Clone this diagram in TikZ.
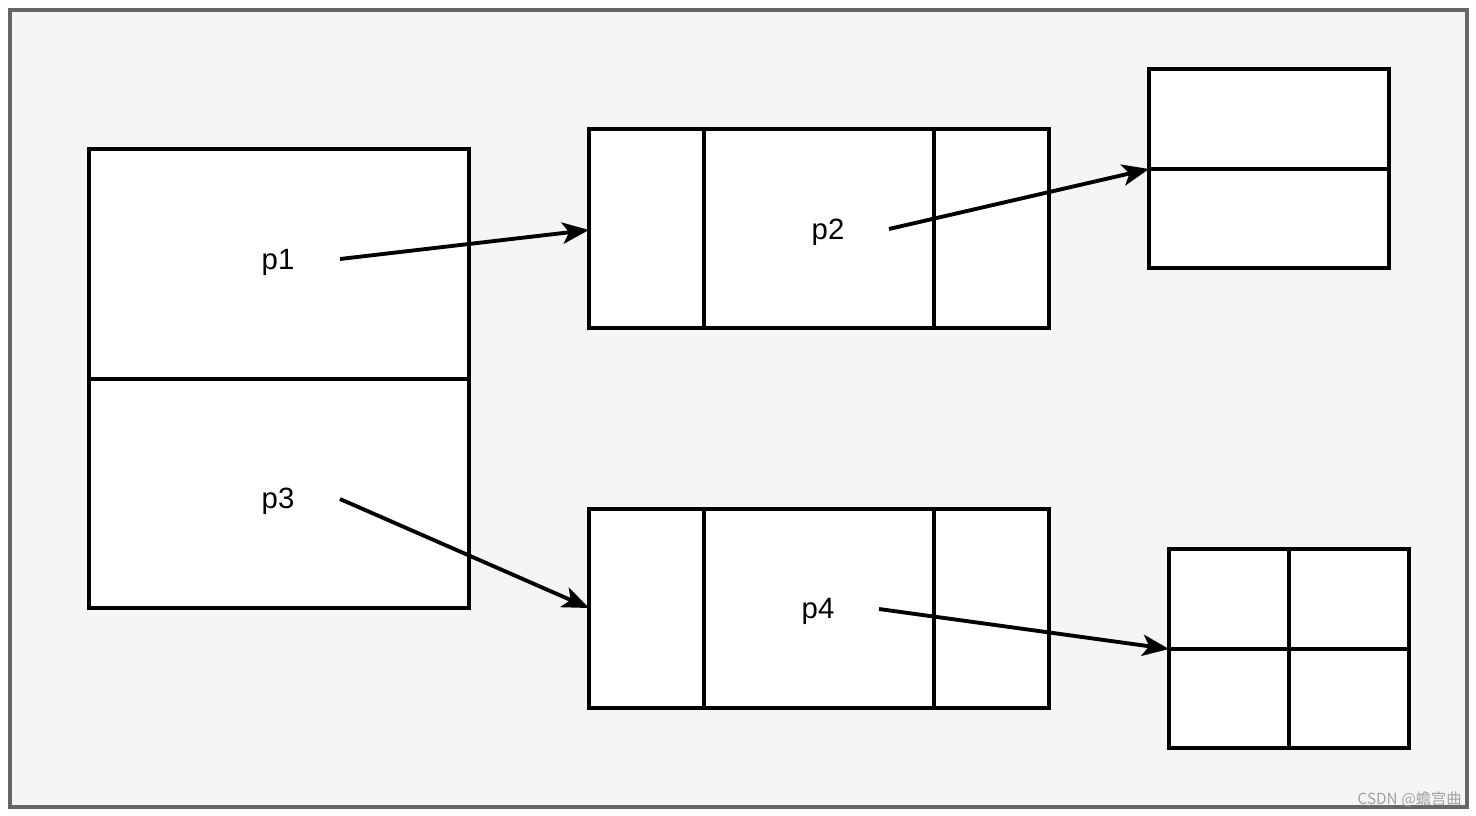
\documentclass[tikz,border=0pt]{standalone}
\usepackage{fontspec}
\setmainfont{Liberation Sans}
\newfontfamily\cjkfont{Noto Sans CJK SC}
\usetikzlibrary{arrows.meta}
\definecolor{bgfill}{HTML}{F5F5F5}
\definecolor{framecol}{HTML}{666666}
\definecolor{wmcol}{HTML}{A0A0A0}
\begin{document}
\begin{tikzpicture}[x=0.75pt,y=-0.75pt,
  cell/.style={draw=black,fill=white,line width=2.9pt},
  divider/.style={draw=black,line width=2.9pt},
  lbl/.style={font=\fontsize{22}{25}\selectfont,inner sep=0pt},
  ptr/.style={draw=black,line width=2.9pt,-{Stealth[length=20pt,width=16pt,inset=5pt]}}]
\useasboundingbox (0,0) rectangle (1476,816);
\fill[white] (0,0) rectangle (1476,816);
\draw[fill=bgfill,draw=framecol,line width=2.6pt] (10,10) rectangle (1467,807);
% left big box
\draw[cell] (89,149) rectangle (469,608);
\draw[divider] (89,379) -- (469,379);
% top middle
\draw[cell] (589,129) rectangle (1049,328);
\draw[divider] (704,129) -- (704,328);
\draw[divider] (934,129) -- (934,328);
% bottom middle
\draw[cell] (589,509) rectangle (1049,708);
\draw[divider] (704,509) -- (704,708);
\draw[divider] (934,509) -- (934,708);
% top right
\draw[cell] (1149,69) rectangle (1389,268);
\draw[divider] (1149,169) -- (1389,169);
% bottom right
\draw[cell] (1169,549) rectangle (1409,748);
\draw[divider] (1289,549) -- (1289,748);
\draw[divider] (1169,649) -- (1409,649);
% labels
\node[lbl] (p1) at (278,262) {p1};
\node[lbl] (p3) at (278,501) {p3};
\node[lbl] (p2) at (828,232) {p2};
\node[lbl] (p4) at (818,611) {p4};
% connector endpoints
\coordinate (s1) at (340,259);
\coordinate (t1) at (589,230);
\coordinate (s2) at (889,229);
\coordinate (t2) at (1149,169);
\coordinate (s3) at (340,499);
\coordinate (t3) at (589,608);
\coordinate (s4) at (879,609);
\coordinate (t4) at (1169,649);
\draw[ptr] (s1) -- (t1);
\draw[ptr] (s2) -- (t2);
\draw[ptr] (s3) -- (t3);
\draw[ptr] (s4) -- (t4);
% watermark
\node[anchor=east,text=wmcol,font=\cjkfont\fontsize{11.5}{13}\selectfont,inner sep=0pt] (wm) at (1462,799) {CSDN @蟾宫曲};
\end{tikzpicture}
\end{document}
